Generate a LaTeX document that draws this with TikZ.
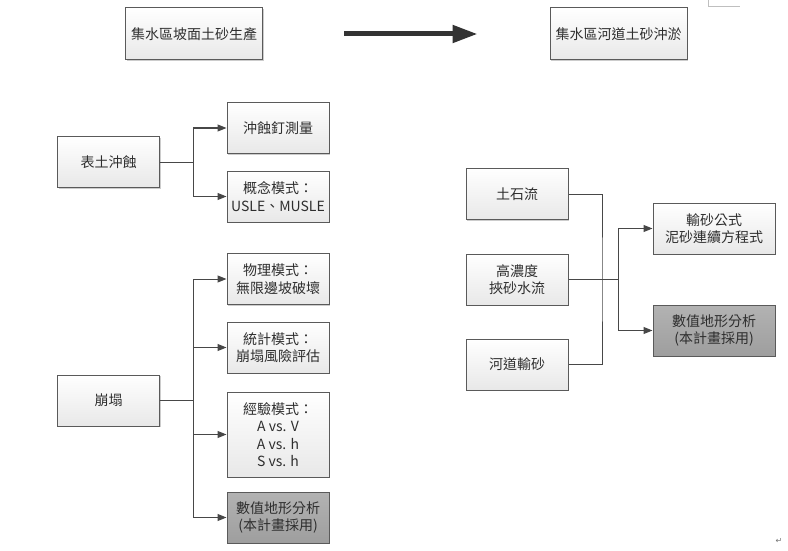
\documentclass[tikz,border=0pt]{standalone}
\usepackage{fontspec}
\setmainfont{Noto Sans CJK TC}
\newfontfamily\symfont{DejaVu Sans}
\usetikzlibrary{arrows.meta, shadows}
\definecolor{boxline}{HTML}{5A5A5A}
\definecolor{txt}{HTML}{2E2E2E}
\tikzset{
  x=1pt, y=-1pt, % pixel grid of the reference
  >={Triangle[length=9pt, width=7pt]}, % small filled heads
  box/.style={draw=boxline, line width=1pt, top color=white, bottom color=black!9,
    minimum width=102pt, minimum height=51pt, inner sep=2pt, align=center,
    text=txt, font=\fontsize{14}{17.5}\selectfont,
    drop shadow={shadow xshift=1.2pt, shadow yshift=-1.2pt, opacity=.2, fill=black}},
  wide/.style={box, minimum width=137pt, minimum height=52pt},
  used/.style={top color=black!30, bottom color=black!38}, % adopted in this plan
  link/.style={draw=black!72, line width=1pt},
}

\begin{document}
\begin{tikzpicture}
  \useasboundingbox (0,0) rectangle (788,551);

  % the two stages
  \node[wide] (src) at (194,34) {集水區坡面土砂生產};
  \node[wide] (dst) at (618.5,34) {集水區河道土砂沖淤};
  \coordinate (a0) at ([xshift=81pt]src.east);
  \coordinate (a1) at ([xshift=-72pt]dst.west);
  \draw[line width=5pt, draw=black!80, -{Triangle[length=25pt, width=17pt]}] (a0) -- (a1);

  % slope side: surface erosion
  \node[box] (bt) at (108.5,162) {表土沖蝕};
  \node[box] (nail) at (278,128) {沖蝕釘測量};
  \node[box] (cm) at (278,196.5) {概念模式：\\USLE、MUSLE};
  \draw[link] (bt.east) -- ++(33,0) coordinate (j1);
  \foreach \n in {nail, cm}
    \draw[link, ->] (j1) |- (\n.west);

  % slope side: landslides
  \node[box] (bk) at (108.5,400.5) {崩塌};
  \node[box] (phy) at (278,279) {物理模式：\\無限邊坡破壞};
  \node[box] (sta) at (278,347.5) {統計模式：\\崩塌風險評估};
  \node[box, minimum height=85pt] (emp) at (278,434.5) {經驗模式：\\A vs. V\\A vs. h\\S vs. h};
  \node[box, used] (dtm1) at (278,517.5) {數值地形分析\\(本計畫採用)};
  \draw[link] (bk.east) -- ++(33,0) coordinate (j2);
  \foreach \n in {phy, sta, emp, dtm1}
    \draw[link, ->] (j2) |- (\n.west);

  % channel side
  \node[box] (ds) at (517,194) {土石流};
  \node[box] (hc) at (517,279.5) {高濃度\\挾砂水流};
  \node[box] (cs) at (517,364.5) {河道輸砂};
  \node[box, minimum width=122pt] (fm) at (714,228.5) {輸砂公式\\泥砂連續方程式};
  \node[box, used, minimum width=122pt] (dtm2) at (714,330.5) {數值地形分析\\(本計畫採用)};
  \coordinate (jm) at (602,279.5);
  \coordinate (jr) at (618,279.5);
  \draw[link] (ds.east) -| (jm) |- (cs.east);
  \draw[link] (hc.east) -- (jr);
  \foreach \n in {fm, dtm2}
    \draw[link, ->] (jr) |- (\n.west);

  % page marks of the source document
  \draw[black!25, line width=0.6pt] (708,0) -- (708,6) -- (740,6);
  \node[text=black!55, font=\symfont\fontsize{8}{8}\selectfont] (ret) at (779,541) {↵};
\end{tikzpicture}
\end{document}
